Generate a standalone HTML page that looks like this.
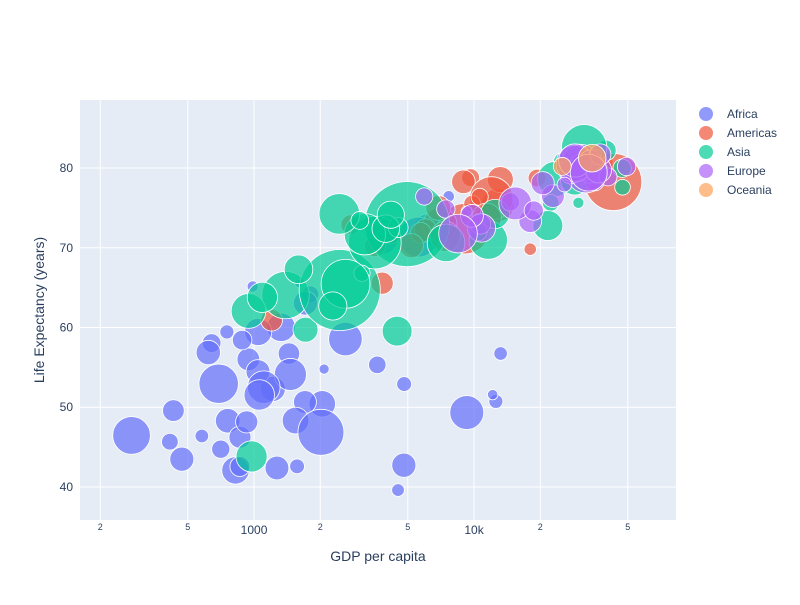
<!DOCTYPE html>
<html><head><meta charset="utf-8">
<style>
body{margin:0;background:#fff;font-family:"Liberation Sans",sans-serif;}
svg text{font-family:"Liberation Sans",sans-serif;fill:#2a3f5f;}
</style></head><body>
<svg id="chart" width="800" height="600">
<rect x="0" y="0" width="800" height="600" fill="#fff"/>
<rect id="plotbg" x="80" y="100" width="596" height="420" fill="#e5ecf6"/>
<g id="grid"></g>
<g id="marks"></g>
<g id="axes"></g>
<g id="legend"></g>
<text x="378" y="561" text-anchor="middle" font-size="14">GDP per capita</text>
<text x="44" y="310" text-anchor="middle" font-size="14" transform="rotate(-90 44 310)">Life Expectancy (years)</text>
</svg>
<script>
const continents=["Africa","Americas","Asia","Europe","Oceania"];
const colors=["#636efa","#EF553B","#00cc96","#ab63fa","#FFA15A"];
// [country, lifeExp, pop, gdpPercap]
const africa=[["Algeria",72.301,33333216,6223.37],["Angola",42.731,12420476,4797.23],["Benin",56.728,8078314,1441.28],["Botswana",50.728,1639131,12569.85],["Burkina Faso",52.295,14326203,1217.03],["Burundi",49.58,8390505,430.07],["Cameroon",50.43,17696293,2042.1],["Central African Republic",44.741,4369038,706.02],["Chad",50.651,10238807,1704.06],["Comoros",65.152,710960,986.15],["Congo, Dem. Rep.",46.462,64606759,277.55],["Congo, Rep.",55.322,3800610,3632.56],["Cote d'Ivoire",48.328,18013409,1544.75],["Djibouti",54.791,496374,2082.48],["Egypt",71.338,80264543,5581.18],["Equatorial Guinea",51.579,551201,12154.09],["Eritrea",58.04,4906585,641.37],["Ethiopia",52.947,76511887,690.81],["Gabon",56.735,1454867,13206.48],["Gambia",59.448,1688359,752.75],["Ghana",60.022,22873338,1327.61],["Guinea",56.007,9947814,942.65],["Guinea-Bissau",46.388,1472041,579.23],["Kenya",54.11,35610177,1463.25],["Lesotho",42.592,2012649,1569.33],["Liberia",45.678,3193942,414.51],["Libya",73.952,6036914,12057.5],["Madagascar",59.443,19167654,1044.77],["Malawi",48.303,13327079,759.35],["Mali",54.467,12031795,1042.58],["Mauritania",64.164,3270065,1803.15],["Mauritius",72.801,1250882,10956.99],["Morocco",71.164,33757175,3820.18],["Mozambique",42.082,19951656,823.69],["Namibia",52.906,2055080,4811.06],["Niger",56.867,12894865,619.68],["Nigeria",46.859,135031164,2013.98],["Reunion",76.442,798094,7670.12],["Rwanda",46.242,8860588,863.09],["Sao Tome and Principe",65.528,199579,1598.44],["Senegal",63.062,12267493,1712.47],["Sierra Leone",42.568,6144562,862.54],["Somalia",48.159,9118773,926.14],["South Africa",49.339,43997828,9269.66],["Sudan",58.556,42292929,2602.39],["Swaziland",39.613,1133066,4513.48],["Tanzania",52.517,38139640,1107.48],["Togo",58.42,5701579,882.97],["Tunisia",73.923,10276158,7092.92],["Uganda",51.542,29170398,1056.38],["Zambia",42.384,11746035,1271.21],["Zimbabwe",43.487,12311143,469.71]];
const americas=[["Argentina",75.32,40301927,12779.38],["Bolivia",65.554,9119152,3822.14],["Brazil",72.39,190010647,9065.8],["Canada",80.653,33390141,36319.24],["Chile",78.553,16284741,13171.64],["Colombia",72.889,44227550,7006.58],["Costa Rica",78.782,4133884,9645.06],["Cuba",78.273,11416987,8948.1],["Dominican Republic",72.235,9319622,6025.37],["Ecuador",74.994,13755680,6873.26],["El Salvador",71.878,6939688,5728.35],["Guatemala",70.259,12572928,5186.05],["Haiti",60.916,8502814,1201.64],["Honduras",70.198,7483763,3548.33],["Jamaica",72.567,2780132,7320.88],["Mexico",76.195,108700891,11977.57],["Nicaragua",72.899,5675356,2749.32],["Panama",75.537,3242173,9809.19],["Paraguay",71.752,6667147,4172.84],["Peru",71.421,28674757,7408.91],["Puerto Rico",78.746,3942491,19328.71],["Trinidad and Tobago",69.819,1056608,18008.51],["United States",78.242,301139947,42951.65],["Uruguay",76.384,3447496,10611.46],["Venezuela",73.747,26084662,11415.81]];
const asia=[["Afghanistan",43.828,31889923,974.58],["Bahrain",75.635,708573,29796.05],["Bangladesh",64.062,150448339,1391.25],["Cambodia",59.723,14131858,1713.78],["China",72.961,1318683096,4959.11],["Hong Kong",82.208,6980412,39724.98],["India",64.698,1110396331,2452.21],["Indonesia",70.65,223547000,3540.65],["Iran",70.964,69453570,11605.71],["Iraq",59.545,27499638,4471.06],["Israel",80.745,6426679,25523.28],["Japan",82.603,127467972,31656.07],["Jordan",72.535,6053193,4519.46],["Korea, Dem. Rep.",67.297,23301725,1593.07],["Korea, Rep.",78.623,49044790,23348.14],["Kuwait",77.588,2505559,47306.99],["Lebanon",71.993,3921278,10461.06],["Malaysia",74.241,24821286,12451.66],["Mongolia",66.803,2874127,3095.77],["Myanmar",62.069,47761980,944.0],["Nepal",63.785,28901790,1091.36],["Oman",75.64,3204897,22316.19],["Pakistan",65.483,169270617,2605.95],["Philippines",71.688,91077287,3190.48],["Saudi Arabia",72.777,27601038,21654.83],["Singapore",79.972,4553009,47143.18],["Sri Lanka",72.396,20378239,3970.1],["Syria",74.143,19314747,4184.55],["Taiwan",78.4,23174294,28718.28],["Thailand",70.616,65068149,7458.4],["Vietnam",74.249,85262356,2441.58],["West Bank and Gaza",73.422,4018332,3025.35],["Yemen",62.698,22211743,2280.77]];
const europe=[["Albania",76.423,3600523,5937.03],["Austria",79.829,8199783,36126.49],["Belgium",79.441,10392226,33692.61],["Bosnia and Herzegovina",74.852,4552198,7446.3],["Bulgaria",73.005,7322858,10680.79],["Croatia",75.748,4493312,14619.22],["Czech Republic",76.486,10228744,22833.31],["Denmark",78.332,5468120,35278.42],["Finland",79.313,5238460,33207.08],["France",80.657,61083916,30470.02],["Germany",79.406,82400996,32170.37],["Greece",79.483,10706290,27538.41],["Hungary",73.338,9956108,18008.94],["Iceland",81.757,301931,36180.79],["Ireland",78.885,4109086,40676.0],["Italy",80.546,58147733,28569.72],["Montenegro",74.543,684736,9253.9],["Netherlands",79.762,16570613,36797.93],["Norway",80.196,4627926,49357.19],["Poland",75.563,38518241,15389.92],["Portugal",78.098,10642836,20509.65],["Romania",72.476,22276056,10808.48],["Serbia",74.002,10150265,9786.53],["Slovak Republic",74.663,5447502,18678.31],["Slovenia",77.926,2009245,25768.26],["Spain",80.941,40448191,28821.06],["Sweden",80.884,9031088,33859.75],["Switzerland",81.701,7554661,37506.42],["Turkey",71.777,71158647,8458.28],["United Kingdom",79.425,60776238,33203.26]];
const oceania=[["Australia",81.235,20434176,34435.37],["New Zealand",80.204,4115771,25185.01]];
const xTickValues=[200,500,1000,2000,5000,10000,20000,50000];
const xTickLabels=["2","5","1000","2","5","10k","2","5"];
const yTickValues=[40,50,60,70,80];

const NS="http://www.w3.org/2000/svg";
const L=80,R=676,T=100,B=520;
const xmin=2.209,xmax=4.918,ymin=35.86,ymax=88.53;
function xs(v){return L+(Math.log10(v)-xmin)/(xmax-xmin)*(R-L);}
function ys(v){return B-(v-ymin)/(ymax-ymin)*(B-T);}
function mk(tag,attrs,parent){const e=document.createElementNS(NS,tag);for(const k in attrs)e.setAttribute(k,attrs[k]);parent.appendChild(e);return e;}
const grid=document.getElementById('grid'),axes=document.getElementById('axes'),marks=document.getElementById('marks'),legend=document.getElementById('legend');
xTickValues.forEach((v,i)=>{
  const x=xs(v);
  const gl=mk('line',{x1:x,x2:x,y1:T,y2:B,stroke:'#fff','stroke-width':1},grid);
  
  
  const big=xTickLabels[i].length>1;
  const t=mk('text',{x:x,y:big?534:530,'text-anchor':'middle','font-size':big?12:9},axes);
  t.textContent=xTickLabels[i];
  
  
});
yTickValues.forEach(v=>{
  const y=ys(v);
  const gl=mk('line',{x1:L,x2:R,y1:y,y2:y,stroke:'#fff','stroke-width':1},grid);
  
  
  const t=mk('text',{x:73,y:y+4,'text-anchor':'end','font-size':12},axes);
  t.textContent=String(v);
  
  
});
const series=[africa,americas,asia,europe,oceania];
let maxPop=0;series.forEach(s=>s.forEach(d=>{if(d[2]>maxPop)maxPop=d[2];}));
const clip=mk('clipPath',{id:'pc'},document.getElementById('chart'));
mk('rect',{x:L,y:T,width:R-L,height:B-T},clip);
marks.setAttribute('clip-path','url(#pc)');
series.forEach((s,si)=>{
  const g=mk('g',{},marks);
  
  
  s.forEach(d=>{
    const r=42.5*Math.pow(d[2]/maxPop,0.27);
    const c=mk('circle',{cx:xs(d[3]),cy:ys(d[1]),r:r,fill:colors[si],'fill-opacity':0.7,stroke:'#fff','stroke-width':0.8},g);
    
    
  });
});
continents.forEach((c,i)=>{
  const y=114+i*19;
  const g=mk('g',{},legend);
  
  
  mk('circle',{cx:706,cy:y,r:7,fill:colors[i],'fill-opacity':0.7},g);
  const t=mk('text',{x:727,y:y+4,'font-size':12},g);
  t.textContent=c;
});
</script>
</body></html>
